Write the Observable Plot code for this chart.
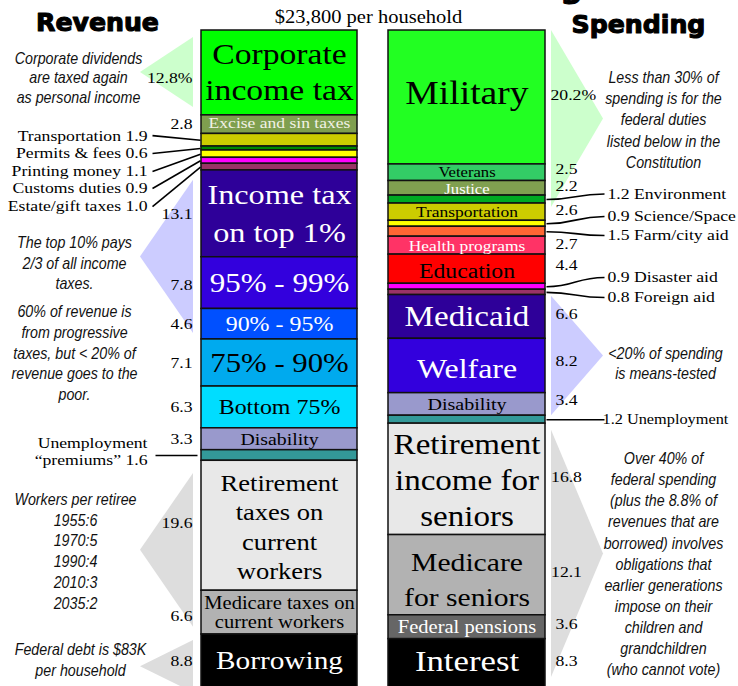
<!DOCTYPE html>
<html><head><meta charset="utf-8">
<script src="https://cdn.jsdelivr.net/npm/d3@7"></script>
<script src="https://cdn.jsdelivr.net/npm/@observablehq/plot@0.6"></script>
<style>
html,body{margin:0;padding:0;background:#fff;overflow:hidden;}
#chart svg{display:block;}
</style></head><body><div id="chart"></div>
<script>
// ---------------- DATA ----------------
const revenueCategories = ["Corporate income tax", "Excise and sin taxes", "Transportation", "Permits & fees", "Printing money", "Customs duties", "Estate/gift taxes", "Income tax on top 1%", "95% - 99%", "90% - 95%", "75% - 90%", "Bottom 75%", "Disability", "Unemployment “premiums”", "Retirement taxes on current workers", "Medicare taxes on current workers", "Borrowing"];
const revenueValues = [12.8, 2.8, 1.9, 0.6, 1.1, 0.9, 1.0, 13.1, 7.8, 4.6, 7.1, 6.3, 3.3, 1.6, 19.6, 6.6, 8.8];
const revenueBarText = ["Corporate\nincome tax", "Excise and sin taxes", "", "", "", "", "", "Income tax\non top 1%", "95% - 99%", "90% - 95%", "75% - 90%", "Bottom 75%", "Disability", "", "Retirement\ntaxes on\ncurrent\nworkers", "Medicare taxes on\ncurrent workers", "Borrowing"];
const revenueCallouts = ["Transportation", "Permits & fees", "Printing money", "Customs duties", "Estate/gift taxes"];
const revenueSideCallout = "Unemployment “premiums”";

const spendingCategories = ["Military", "Veterans", "Justice", "Environment", "Transportation", "Science/Space", "Farm/city aid", "Health programs", "Education", "Disaster aid", "Foreign aid", "Medicaid", "Welfare", "Disability", "Unemployment", "Retirement income for seniors", "Medicare for seniors", "Federal pensions", "Interest"];
const spendingValues = [20.2, 2.5, 2.2, 1.2, 2.6, 0.9, 1.5, 2.7, 4.4, 0.9, 0.8, 6.6, 8.2, 3.4, 1.2, 16.8, 12.1, 3.6, 8.3];
const spendingBarText = ["Military", "Veterans", "Justice", "", "Transportation", "", "", "Health programs", "Education", "", "", "Medicaid", "Welfare", "Disability", "", "Retirement\nincome for\nseniors", "Medicare\nfor seniors", "Federal pensions", "Interest"];
const spendingCallouts = ["Environment", "Science/Space", "Farm/city aid", "Disaster aid", "Foreign aid", "Unemployment"];

const titleRevenue = "Revenue";
const titleSpending = "Spending";
const subtitle = "$23,800 per household";
const hiddenTitleFragment = "g";

const leftNotes = [
  "Corporate dividends\nare taxed again\nas personal income",
  "The top 10% pays\n2/3 of all income\ntaxes.",
  "60% of revenue is\nfrom progressive\ntaxes, but < 20% of\nrevenue goes to the\npoor.",
  "Workers per retiree\n1955:6\n1970:5\n1990:4\n2010:3\n2035:2",
  "Federal debt is $83K\nper household"
];
const rightNotes = [
  "Less than 30% of\nspending is for the\nfederal duties\nlisted below in the\nConstitution",
  "<20% of spending\nis means-tested",
  "Over 40% of\nfederal spending\n(plus the 8.8% of\nrevenues that are\nborrowed) involves\nobligations that\nearlier generations\nimpose on their\nchildren and\ngrandchildren\n(who cannot vote)"
];

// ---------------- STYLES ----------------
const revenueColors = ["#00ff00", "#7f9f4f", "#cccc00", "#008800", "#ffff00", "#ff00ff", "#993366", "#2e0099", "#3300dd", "#0050ff", "#00aaee", "#00ddff", "#9999cc", "#339999", "#e8e8e8", "#b2b2b2", "#000000"];
const revenueTextColors = ["#000", "#f2f2e6", "", "", "", "", "", "#fff", "#fff", "#fff", "#000", "#000", "#000", "", "#000", "#000", "#fff"];
const revenueFontSizes = [29.5, 15.4, 0, 0, 0, 0, 0, 28.3, 27.2, 21, 27, 21, 17.4, 0, 23.3, 18, 25.7];
const revenueLineHeights = [1.22, 1, 1, 1, 1, 1, 1, 1.36, 1, 1, 1, 1, 1, 1, 1.26, 1.06, 1];
const revenueTextDy = [-2, -2, 0, 0, 0, 0, 0, -3, 0, 0, 0, 0, 0, 0, 0, 0, -3];
const revenueValueDy = [5, -1, 0, 0, 0, 0, 0, 0, 2, 0, 0, 0, 0, 0, -3, 3, -3];

const spendingColors = ["#22ff22", "#33cc66", "#80a050", "#00aa22", "#cccc00", "#ffff00", "#ff6633", "#ff3366", "#ff0000", "#ff00ff", "#993366", "#2e0099", "#3300dd", "#9999cc", "#339999", "#e8e8e8", "#b2b2b2", "#666666", "#000000"];
const spendingTextColors = ["#000", "#000", "#fff", "", "#000", "", "", "#fff", "#000", "", "", "#fff", "#fff", "#000", "", "#000", "#000", "#fff", "#fff"];
const spendingFontSizes = [33, 14.6, 14.6, 0, 15.3, 0, 0, 15.3, 20.8, 0, 0, 29, 28, 17.6, 0, 29, 26, 18, 30.5];
const spendingLineHeights = [1, 1, 1, 1, 1, 1, 1, 1, 1, 1, 1, 1, 1, 1, 1, 1.24, 1.35, 1, 1];
const spendingTextDy = [-4.5, -0.5, 0.8, 0, 0, 0, 0, 0, 2, 0, 0, 0, 3, 0, 0, -1, 2, 0, -5];
const spendingValueDy = [-2, -4, -2, 0, -2, 0, 0, -2, -4, 0, 0, -3, -5, -4, 0, -2, -3, -3, -6];
const spendingCalloutFontSizes = [15.5, 15.5, 15.5, 15.5, 15.5, 14.3];

const triangleSpecs = [
  {side: "rev", from: 0, to: 0, insetTop: 1.06, insetBottom: 1.2, color: "#ccffcc"},
  {side: "rev", from: 7, to: 9, insetTop: 1.5, insetBottom: 0.9, color: "#ccccff"},
  {side: "rev", from: 14, to: 15, insetTop: 1.9, insetBottom: 1.1, color: "#dddddd"},
  {side: "rev", from: 16, to: 16, insetTop: 0.9, insetBottom: 0, color: "#dddddd"},
  {side: "sp", from: 0, to: 4, insetTop: 0, insetBottom: 2.0, color: "#ccffcc"},
  {side: "sp", from: 11, to: 13, insetTop: 0.2, insetBottom: 0, color: "#ccccff"},
  {side: "sp", from: 15, to: 18, insetTop: 1.0, insetBottom: 2.5, color: "#dddddd"}
];

// layout (x in page pixels via identity x scale, y in budget-percent units)
const L = {
  rev: [201, 357], sp: [388, 545],
  revTriBase: 193, revTriApex: 140, spTriBase: 551, spTriApex: 603,
  revValueX: 192, spValueX: 566, spFirstValueX: 550,
  revCallLine: [152, 200], revCallText: 147, revCalloutY: [15.85, 18.55, 21.27, 23.83, 26.55],
  revSideLine: [155, 197], revSideTextY: 63.38,
  spCallLine: [546, 604], spCallText: [607, 607, 607, 607, 607, 602], spCalloutY: [24.66, 28.05, 30.92, 37.25, 40.27, null],
  leftNoteX: [78, 74, 74, 75, 80], leftNoteY: [7.0, 34.93, 48.48, 78.36, 94.8], leftNoteLH: [1.18, 1.22, 1.25, 1.25, 1.22],
  rightNoteX: [663, 665, 663], rightNoteY: [13.3, 50.06, 80.3], rightNoteLH: [1.27, 1.22, 1.27]
};

const SERIF = "'Liberation Serif', 'Times New Roman', serif";
const SANS = "'Liberation Sans', Arial, sans-serif";

function stackUp(names, values) {
  let acc = 0;
  return names.map((name, i) => {
    const y1 = acc; acc += values[i];
    return {i, name, value: values[i], y1, y2: acc, mid: (y1 + acc) / 2};
  });
}
const rev = stackUp(revenueCategories, revenueValues);
const sp = stackUp(spendingCategories, spendingValues);

const marks = [];

// background triangles
for (const t of triangleSpecs) {
  const segs = t.side === "rev" ? rev : sp;
  const top = segs[t.from].y1 + t.insetTop, bottom = segs[t.to].y2 - t.insetBottom;
  const baseX = t.side === "rev" ? L.revTriBase : L.spTriBase;
  const apexX = t.side === "rev" ? L.revTriApex : L.spTriApex;
  const pts = [{y: top, x: baseX}, {y: (top + bottom) / 2, x: apexX}, {y: bottom, x: baseX}];
  marks.push(Plot.areaX(pts, {y: "y", x1: "x", x2: () => baseX, fill: t.color, curve: "linear"}));
}

// stacked bars
marks.push(Plot.rect(rev, {x1: () => L.rev[0], x2: () => L.rev[1], y1: "y1", y2: "y2", fill: d => revenueColors[d.i], stroke: "#111", strokeWidth: 1.5}));
marks.push(Plot.rect(sp, {x1: () => L.sp[0], x2: () => L.sp[1], y1: "y1", y2: "y2", fill: d => spendingColors[d.i], stroke: "#111", strokeWidth: 1.5}));

// in-bar labels
function barLabels(segs, texts, colors, sizes, lhs, dys, xr) {
  return segs.filter(d => texts[d.i]).map(d => Plot.text([d], {
    x: () => (xr[0] + xr[1]) / 2, y: "mid", text: () => texts[d.i],
    fill: colors[d.i], fontSize: sizes[d.i], lineHeight: lhs[d.i], dy: dys[d.i],
    fontFamily: SERIF, ariaDescription: "serif"
  }));
}
marks.push(...barLabels(rev, revenueBarText, revenueTextColors, revenueFontSizes, revenueLineHeights, revenueTextDy, L.rev));
marks.push(...barLabels(sp, spendingBarText, spendingTextColors, spendingFontSizes, spendingLineHeights, spendingTextDy, L.sp));

// value labels beside bars
const fmt = d => d.value.toFixed(1) + (d.i === 0 ? "%" : "");
const revBeside = rev.filter(d => !revenueCallouts.includes(d.name) && d.name !== revenueSideCallout);
const spBeside = sp.filter(d => !spendingCallouts.includes(d.name));
revBeside.forEach(d => marks.push(Plot.text([d], {x: () => L.revValueX, y: "mid", text: fmt, textAnchor: "end", fontSize: 15.5, fontFamily: SERIF, fill: "#000", dy: revenueValueDy[d.i], ariaDescription: "serif"})));
spBeside.forEach(d => marks.push(Plot.text([d], {
  x: () => d.i === 0 ? L.spFirstValueX : L.spValueX, y: "mid", text: fmt,
  textAnchor: d.i === 0 ? "start" : "middle", fontSize: 15.5, fontFamily: SERIF, fill: "#000",
  dy: spendingValueDy[d.i], ariaDescription: "serif"
})));

// left callouts
const revCall = revenueCallouts.map((name, k) => ({...rev.find(s => s.name === name), ty: L.revCalloutY[k]}));
marks.push(Plot.link(revCall, {x1: () => L.revCallLine[0], y1: "ty", x2: () => L.revCallLine[1], y2: "mid", stroke: "#000", strokeWidth: 1.6}));
marks.push(Plot.text(revCall, {x: () => L.revCallText, y: "ty", text: d => `${d.name} ${d.value.toFixed(1)}`, textAnchor: "end", fontSize: 15.5, fontFamily: SERIF, fill: "#000", ariaDescription: "serif"}));

const revSide = rev.filter(d => d.name === revenueSideCallout);
marks.push(Plot.link(revSide, {x1: () => L.revSideLine[0], y1: "mid", x2: () => L.revSideLine[1], y2: "mid", stroke: "#000", strokeWidth: 1.6}));
marks.push(Plot.text(revSide, {x: () => L.revCallText, y: () => L.revSideTextY, text: d => d.name.replace(" ", "\n") + " " + d.value.toFixed(1), textAnchor: "end", fontSize: 15.5, lineHeight: 1.15, fontFamily: SERIF, fill: "#000", ariaDescription: "serif"}));

// right callouts
const spCall = spendingCallouts.map((name, k) => { const s = sp.find(s => s.name === name); return {...s, k, ty: L.spCalloutY[k] ?? s.mid}; });
marks.push(Plot.link(spCall, {x1: () => L.spCallLine[0], y1: "mid", x2: () => L.spCallLine[1], y2: "ty", curve: "bump-x", stroke: "#000", strokeWidth: 1.6}));
spCall.forEach(d => marks.push(Plot.text([d], {x: () => L.spCallText[d.k], y: "ty", text: d => `${d.value.toFixed(1)} ${d.name}`, textAnchor: "start", fontSize: spendingCalloutFontSizes[d.k], fontFamily: SERIF, fill: "#000", ariaDescription: "serif"})));

// italic notes
leftNotes.forEach((t, k) => marks.push(Plot.text([t], {x: () => L.leftNoteX[k], y: () => L.leftNoteY[k], text: d => d, fontFamily: SANS, fontStyle: "italic", fontSize: 16.6, lineHeight: L.leftNoteLH[k], fill: "#111", ariaDescription: "note"})));
rightNotes.forEach((t, k) => marks.push(Plot.text([t], {x: () => L.rightNoteX[k], y: () => L.rightNoteY[k], text: d => d, fontFamily: SANS, fontStyle: "italic", fontSize: 16.6, lineHeight: L.rightNoteLH[k], fill: "#111", ariaDescription: "note"})));

// titles
marks.push(Plot.text([hiddenTitleFragment], {x: () => 571, frameAnchor: "top", lineAnchor: "bottom", dy: -3, text: d => d, fontFamily: "'DejaVu Sans', sans-serif", fontWeight: "bold", fontSize: 30, fill: "#000", stroke: "#000", strokeWidth: 1, ariaDescription: "title"}));
marks.push(Plot.text([titleRevenue], {x: () => 97, frameAnchor: "top", lineAnchor: "bottom", dy: 30, text: d => d, fontFamily: "'DejaVu Sans', sans-serif", fontWeight: "bold", fontSize: 24, fill: "#000", stroke: "#000", strokeWidth: 1.1, ariaDescription: "title"}));
marks.push(Plot.text([titleSpending], {x: () => 638, frameAnchor: "top", lineAnchor: "bottom", dy: 32, text: d => d, fontFamily: "'DejaVu Sans', sans-serif", fontWeight: "bold", fontSize: 24, fill: "#000", stroke: "#000", strokeWidth: 1.1, ariaDescription: "title"}));
marks.push(Plot.text([subtitle], {x: () => 368, frameAnchor: "top", lineAnchor: "bottom", dy: 22, text: d => d, fontFamily: SERIF, fontSize: 18, fill: "#000", ariaDescription: "serif"}));

const chart = Plot.plot({
  width: 738, height: 686, margin: 0,
  x: {domain: [0, 738], range: [0, 738], axis: null},
  y: {domain: [0, 100], range: [30, 693], axis: null},
  color: {type: "identity"},
  style: {background: "#fff", fontFamily: SERIF},
  marks
});

function stretch(svg, label, s) {
  svg.querySelectorAll(`g[aria-description="${label}"] text`).forEach(t => {
    const x = +(t.getAttribute("x") || 0);
    const tr = t.getAttribute("transform") || "";
    t.setAttribute("transform", `${tr} translate(${x},0) scale(${s},1) translate(${-x},0)`);
  });
}
stretch(chart, "serif", 1.14);
stretch(chart, "note", 0.86);
stretch(chart, "title", 1.05);

document.getElementById("chart").appendChild(chart);
</script>
</body></html>
